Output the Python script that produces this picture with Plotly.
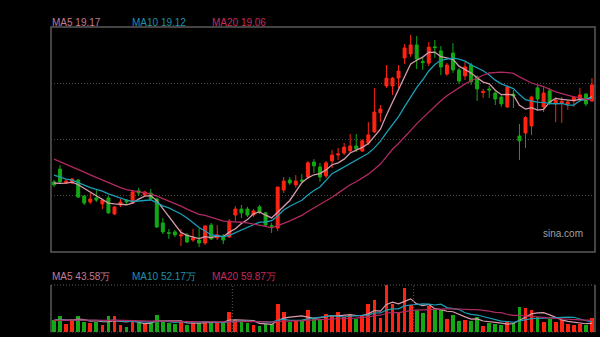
import pandas as pd
import plotly.graph_objects as go

# Daily candles (price, yuan) for the visible window, oldest first
open_ = [16.03, 16.50, 15.99, 15.99, 16.10, 15.51, 15.29, 15.44, 15.22, 15.44,
         14.85, 15.18, 15.36, 15.25, 15.70, 15.55, 15.62, 15.40, 14.52, 14.16,
         14.19, 14.04, 14.08, 13.89, 13.89, 13.78, 14.44, 13.97, 14.04, 14.00,
         14.81, 15.03, 15.03, 14.81, 15.11, 14.89, 14.42, 14.33, 15.73, 16.10,
         15.92, 16.10, 16.21, 16.76, 16.58, 16.25, 16.80, 17.02, 17.09, 17.17,
         17.35, 17.17, 17.46, 17.87, 18.57, 19.56, 19.56, 19.85, 20.59, 20.74,
         21.07, 20.46, 20.40, 21.00, 20.85, 20.00, 20.77, 20.15, 19.93, 20.33,
         19.89, 19.32, 19.45, 19.30, 19.15, 18.79, 19.26, 17.72, 17.83, 18.09,
         19.49, 18.79, 19.38, 18.90, 18.93, 18.90, 19.01, 19.04, 19.26, 19.01]
high = [16.10, 16.65, 16.14, 16.17, 16.14, 15.55, 15.62, 15.77, 15.40, 15.51,
        15.14, 15.40, 15.40, 15.70, 15.81, 15.70, 15.77, 15.44, 14.70, 14.30,
        14.26, 14.30, 14.15, 14.30, 14.33, 14.44, 14.52, 14.44, 14.11, 14.66,
        15.14, 15.18, 15.11, 15.03, 15.18, 14.92, 14.52, 15.84, 16.21, 16.21,
        16.28, 16.32, 16.80, 16.87, 16.73, 16.80, 17.20, 17.28, 17.46, 17.79,
        17.79, 17.60, 18.23, 19.49, 18.86, 20.33, 19.89, 20.33, 21.10, 21.44,
        21.40, 20.59, 21.18, 21.25, 21.03, 20.41, 21.14, 20.22, 20.44, 20.41,
        19.95, 19.45, 19.56, 19.36, 19.22, 19.56, 19.41, 18.16, 18.45, 19.20,
        19.60, 19.52, 19.49, 19.15, 19.15, 19.04, 19.19, 19.49, 19.30, 19.85]
low = [15.84, 15.99, 15.95, 15.95, 15.44, 15.18, 15.22, 15.29, 15.03, 14.85,
       14.81, 15.11, 15.22, 15.22, 15.51, 15.51, 15.36, 14.33, 14.11, 13.93,
       14.00, 13.67, 13.78, 13.82, 13.63, 13.71, 13.89, 13.89, 13.74, 13.97,
       14.59, 14.70, 14.74, 14.74, 14.85, 14.41, 14.15, 14.22, 15.62, 15.92,
       15.81, 15.99, 16.14, 16.36, 16.03, 16.17, 16.54, 16.84, 17.02, 17.09,
       17.13, 17.13, 17.39, 17.83, 18.23, 19.49, 19.23, 19.49, 20.37, 20.63,
       20.18, 20.15, 20.29, 20.59, 19.96, 19.93, 20.04, 19.63, 19.78, 19.60,
       19.01, 19.12, 19.12, 18.86, 18.79, 18.75, 18.75, 16.84, 17.28, 17.75,
       18.68, 18.60, 18.86, 18.23, 18.20, 18.68, 18.79, 18.97, 18.82, 18.97]
close = [15.92, 16.03, 16.06, 16.14, 15.47, 15.25, 15.40, 15.36, 15.36, 14.89,
         15.11, 15.29, 15.29, 15.66, 15.62, 15.66, 15.40, 14.37, 14.19, 14.14,
         14.08, 14.08, 13.82, 13.97, 13.78, 14.41, 13.93, 14.08, 13.89, 14.59,
         15.03, 14.89, 14.81, 14.96, 14.92, 14.44, 14.40, 15.84, 16.06, 15.99,
         16.06, 16.06, 16.73, 16.62, 16.21, 16.73, 17.02, 17.06, 17.31, 17.35,
         17.24, 17.54, 17.76, 18.60, 18.71, 19.85, 19.85, 20.11, 20.96, 21.07,
         20.55, 20.42, 20.99, 20.97, 20.26, 20.33, 20.15, 19.74, 20.26, 19.71,
         19.45, 19.36, 19.41, 19.08, 18.90, 19.52, 19.19, 17.54, 18.40, 19.15,
         19.08, 19.30, 18.93, 19.04, 19.00, 18.97, 19.15, 19.23, 18.90, 19.60]
# Daily volume, in 万
volume = [62, 82, 39, 59, 82, 50, 44, 50, 34, 79,
          79, 34, 25, 62, 45, 42, 50, 87, 55, 45,
          42, 54, 34, 45, 45, 55, 50, 45, 50, 101,
          59, 50, 45, 34, 29, 39, 42, 139, 101, 50,
          55, 59, 109, 67, 67, 92, 79, 101, 75, 87,
          67, 84, 142, 159, 72, 235, 139, 101, 223, 134,
          109, 96, 129, 117, 112, 67, 84, 55, 62, 55,
          75, 29, 45, 39, 34, 50, 45, 124, 122.7, 112,
          77.8, 50, 67, 50, 59, 42, 34, 39, 34, 68.9]

# Sessions preceding the window, used only to seed the moving averages
hist_close = [17.95, 17.85, 17.70, 17.62, 17.50, 17.40, 17.30, 17.22, 17.10, 16.96,
              16.85, 16.70, 16.56, 16.44, 16.30, 16.12, 16.00, 15.97, 15.94]
hist_volume = [58, 62, 55, 60, 57, 63, 54, 59, 61, 56,
               58, 60, 57, 62, 55, 59, 58, 56, 60]

ma_windows = [5, 10, 20]
ma_line_colors = ["#d69cad", "#1b9db6", "#b02a62"]
ma_text_colors = ["#c27c94", "#1e90aa", "#c62a5c"]

RED = "#ff2412"
GREEN = "#14a814"
FRAME = "#5a5a5a"
GRID = "#4a4a4a"

n = len(close)
idx = list(range(n))
k = len(hist_close)

px_all = pd.Series(hist_close + close, dtype=float)
vol_all = pd.Series(hist_volume + volume, dtype=float)
price_ma = {w: px_all.rolling(w).mean().iloc[k:].tolist() for w in ma_windows}
vol_ma = {w: vol_all.rolling(w).mean().iloc[k:].tolist() for w in ma_windows}

vol_colors = [RED if c >= o else GREEN for o, c in zip(open_, close)]

fig = go.Figure()

fig.add_trace(go.Candlestick(
    x=idx, open=open_, high=high, low=low, close=close,
    increasing=dict(line=dict(color=RED, width=1), fillcolor=RED),
    decreasing=dict(line=dict(color=GREEN, width=1), fillcolor=GREEN),
    whiskerwidth=0, hoverinfo="skip", xaxis="x", yaxis="y",
))
for w, col in zip(ma_windows, ma_line_colors):
    fig.add_trace(go.Scatter(x=idx, y=price_ma[w], mode="lines",
                             line=dict(color=col, width=1.3),
                             hoverinfo="skip", xaxis="x", yaxis="y"))

fig.add_trace(go.Bar(x=idx, y=volume, marker=dict(color=vol_colors, line=dict(width=0)),
                     width=0.62, hoverinfo="skip", xaxis="x2", yaxis="y2"))
for w, col in zip(ma_windows, ma_line_colors):
    fig.add_trace(go.Scatter(x=idx, y=vol_ma[w], mode="lines",
                             line=dict(color=col, width=1.2),
                             hoverinfo="skip", xaxis="x2", yaxis="y2"))

W, H = 600, 337
x0, x1 = 51 / W, 595 / W
main_dom = [1 - 252 / H, 1 - 27 / H]
vol_dom = [1 - 332 / H, 1 - 285 / H]

p_lo, p_hi = 13.45, 21.73
v_hi = 236

fig.update_layout(
    width=W, height=H,
    margin=dict(l=0, r=0, t=0, b=0),
    paper_bgcolor="#000000", plot_bgcolor="#000000",
    showlegend=False,
    font=dict(family="Arial, Liberation Sans, sans-serif", size=10),
    bargap=0,
    xaxis=dict(domain=[x0, x1], range=[-0.5, n - 0.5], showgrid=False, zeroline=False,
               showticklabels=False, ticks="", rangeslider=dict(visible=False), anchor="y"),
    yaxis=dict(domain=main_dom, range=[p_lo, p_hi], tick0=p_lo, dtick=(p_hi - p_lo) / 4,
               showgrid=True, gridcolor=GRID, griddash="1px,2px", gridwidth=1,
               zeroline=False, showticklabels=False, ticks="", anchor="x"),
    xaxis2=dict(domain=[x0, x1], range=[-0.5, n - 0.5], showgrid=False, zeroline=False,
                showticklabels=False, ticks="", anchor="y2"),
    yaxis2=dict(domain=vol_dom, range=[0, v_hi], showgrid=False, zeroline=False,
                showticklabels=False, ticks="", anchor="x2"),
)

shapes = [
    # main panel frame
    dict(type="rect", xref="paper", yref="paper", x0=x0, x1=x1,
         y0=main_dom[0], y1=main_dom[1], line=dict(color=FRAME, width=1.5)),
    # volume panel: solid sides, dotted top and bottom
    dict(type="line", xref="paper", yref="paper", x0=x0, x1=x0,
         y0=vol_dom[0], y1=vol_dom[1], line=dict(color=FRAME, width=1.5)),
    dict(type="line", xref="paper", yref="paper", x0=x1, x1=x1,
         y0=vol_dom[0], y1=vol_dom[1], line=dict(color=FRAME, width=1.5)),
    dict(type="line", xref="paper", yref="paper", x0=x0, x1=x1,
         y0=vol_dom[1], y1=vol_dom[1], line=dict(color=FRAME, width=1, dash="1px,2px")),
    dict(type="line", xref="paper", yref="paper", x0=x0, x1=x1,
         y0=vol_dom[0], y1=vol_dom[0], line=dict(color=FRAME, width=1, dash="1px,2px")),
]
for xm in (29.5, 59.5):
    shapes.append(dict(type="line", xref="x2", yref="paper", x0=xm, x1=xm,
                       y0=vol_dom[0], y1=vol_dom[1],
                       line=dict(color=FRAME, width=1, dash="1px,2px")))
fig.update_layout(shapes=shapes)

price_labels = ["MA5 19.17", "MA10 19.12", "MA20 19.06"]
vol_labels = ["MA5 43.58万", "MA10 52.17万", "MA20 59.87万"]
label_x = [50, 130, 210]
ann = []
for txt, lx, col in zip(price_labels, label_x, ma_text_colors):
    ann.append(dict(text=txt, x=lx / W, y=1 - 22.5 / H, xref="paper", yref="paper",
                    xanchor="left", yanchor="middle", showarrow=False,
                    font=dict(color=col, size=10)))
for txt, lx, col in zip(vol_labels, label_x, ma_text_colors):
    ann.append(dict(text=txt, x=lx / W, y=1 - 276 / H, xref="paper", yref="paper",
                    xanchor="left", yanchor="middle", showarrow=False,
                    font=dict(color=col, size=10)))
ann.append(dict(text="sina.com", x=585 / W, y=1 - 233 / H, xref="paper", yref="paper",
                xanchor="right", yanchor="middle", showarrow=False,
                font=dict(color="#a0a0a0", size=10)))
fig.update_layout(annotations=ann)

fig.write_html("out.html", config=dict(displayModeBar=False))
